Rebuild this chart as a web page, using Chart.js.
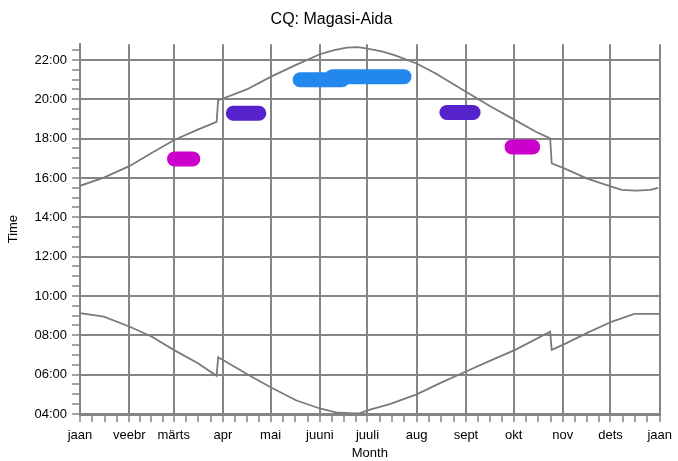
<!DOCTYPE html>
<html>
<head>
<meta charset="utf-8">
<title>CQ: Magasi-Aida</title>
<script src="https://cdn.jsdelivr.net/npm/chart.js@4/dist/chart.umd.min.js"></script>
<style>
    html, body { margin: 0; padding: 0; background: #fff; }
    #wrap { width: 678px; height: 461px; }
</style>
</head>
<body>
<div id="wrap"><canvas id="cqChart" width="678" height="461"></canvas></div>
<script>
// Month axis (day of year) and labels
const monthTicks = [0, 31, 59, 90, 120, 151, 181, 212, 243, 273, 304, 334, 365];
const monthLabels = ['jaan', 'veebr', 'märts', 'apr', 'mai', 'juuni', 'juuli', 'aug', 'sept', 'okt', 'nov', 'dets', 'jaan'];

// Time axis (hours)
const hourTicks = [4, 6, 8, 10, 12, 14, 16, 18, 20, 22];

// Sunset line (upper grey curve)
const sunsetDays  = [0, 15, 31, 44, 59, 73, 86, 87, 90, 105, 120, 136, 151, 160, 168, 175, 181, 190, 198, 212, 224, 243, 258, 274, 287, 296, 297, 305, 319, 335, 341, 350, 359, 364];
const sunsetHours = [15.60, 16.02, 16.60, 17.22, 17.92, 18.42, 18.85, 19.95, 20.04, 20.50, 21.14, 21.75, 22.29, 22.50, 22.63, 22.65, 22.58, 22.43, 22.24, 21.82, 21.31, 20.38, 19.66, 18.94, 18.35, 18.01, 16.74, 16.49, 15.98, 15.55, 15.39, 15.36, 15.39, 15.50];

// Sunrise line (lower grey curve)
const sunriseDays  = [0, 15, 31, 45, 59, 74, 86, 87, 90, 107, 120, 136, 151, 161, 172, 176, 181, 195, 212, 227, 243, 258, 274, 296, 297, 305, 320, 335, 349, 365];
const sunriseHours = [9.13, 8.95, 8.45, 7.94, 7.26, 6.59, 5.94, 6.89, 6.75, 5.94, 5.36, 4.70, 4.28, 4.08, 4.03, 4.03, 4.18, 4.50, 5.00, 5.58, 6.16, 6.70, 7.26, 8.19, 7.26, 7.55, 8.15, 8.70, 9.09, 9.09];

// CQ windows (start day, end day, time of day)
const windowStart = [59.5, 96.5, 138.6, 159, 231, 272];
const windowEnd   = [71, 112.6, 165, 204, 247.5, 285];
const windowTime  = [16.97, 19.29, 20.99, 21.15, 19.33, 17.58];
const windowColor = ['#cc00cc', '#5522cc', '#2288ee', '#2288ee', '#5522cc', '#cc00cc'];

const GRID = '#858585';
const FONT = '"Liberation Sans", Arial, sans-serif';

function toPoints(xs, ys) {
    return xs.map((x, i) => ({ x: x, y: ys[i] }));
}

// quarter-month minor ticks between the month starts
function monthMinorTicks() {
    const out = [];
    for (let i = 0; i < monthTicks.length - 1; i++) {
        const a = monthTicks[i], b = monthTicks[i + 1];
        for (let k = 0; k < 4; k++) out.push(a + k * (b - a) / 4);
    }
    out.push(monthTicks[monthTicks.length - 1]);
    return out;
}

function halfHourTicks() {
    const out = [];
    for (let h = 4; h <= 22.5; h += 0.5) out.push(h);
    return out;
}

function fmtHour(h) {
    return (h < 10 ? '0' : '') + h + ':00';
}

const datasets = [];

windowStart.forEach((s, i) => {
    datasets.push({
        label: 'cq' + i,
        data: toPoints([s, windowEnd[i]], [windowTime[i], windowTime[i]]),
        borderColor: windowColor[i],
        borderWidth: 15,
        borderCapStyle: 'round',
        pointRadius: 0,
        fill: false
    });
});

datasets.push({
    label: 'sunset',
    data: toPoints(sunsetDays, sunsetHours),
    borderColor: '#7a7a7a',
    borderWidth: 1.8,
    pointRadius: 0,
    tension: 0,
    fill: false
});

datasets.push({
    label: 'sunrise',
    data: toPoints(sunriseDays, sunriseHours),
    borderColor: '#7a7a7a',
    borderWidth: 1.8,
    pointRadius: 0,
    tension: 0,
    fill: false
});

Chart.defaults.font.family = FONT;
Chart.defaults.color = '#000';

new Chart(document.getElementById('cqChart').getContext('2d'), {
    type: 'line',
    data: { datasets: datasets },
    options: {
        responsive: false,
        animation: false,
        layout: { padding: { top: 0, right: 15, bottom: 0, left: 0 } },
        plugins: {
            legend: { display: false },
            tooltip: { enabled: false },
            title: {
                display: true,
                text: 'CQ: Magasi-Aida',
                font: { size: 16, weight: 'normal', family: FONT },
                color: '#000',
                padding: { top: 10, bottom: 15 }
            }
        },
        scales: {
            x: {
                type: 'linear',
                min: 0,
                max: 365,
                afterBuildTicks: (scale) => {
                    scale.ticks = monthMinorTicks().map(v => ({ value: v }));
                },
                afterFit: (scale) => { scale.height = 47; },
                ticks: {
                    autoSkip: false,
                    maxRotation: 0,
                    padding: 6,
                    font: { size: 13 },
                    callback: (value) => {
                        const idx = monthTicks.indexOf(value);
                        return idx >= 0 ? monthLabels[idx] : '';
                    }
                },
                grid: {
                    lineWidth: 2,
                    tickLength: 8,
                    tickWidth: 1.5,
                    tickColor: GRID,
                    color: (ctx) => (ctx.tick && monthTicks.includes(ctx.tick.value)) ? GRID : 'rgba(0,0,0,0)'
                },
                border: { color: GRID, width: 3 },
                title: {
                    display: true,
                    text: 'Month',
                    font: { size: 13 },
                    padding: { top: 0, bottom: 0 }
                }
            },
            y: {
                type: 'linear',
                min: 4,
                max: 22.8,
                afterBuildTicks: (scale) => {
                    scale.ticks = halfHourTicks().map(v => ({ value: v }));
                },
                afterFit: (scale) => { scale.width = 80; },
                ticks: {
                    autoSkip: false,
                    padding: 5,
                    font: { size: 13 },
                    callback: (value) => hourTicks.includes(value) ? fmtHour(value) : ''
                },
                grid: {
                    lineWidth: 2,
                    tickLength: 8,
                    tickWidth: 1.5,
                    tickColor: GRID,
                    color: (ctx) => (ctx.tick && hourTicks.includes(ctx.tick.value)) ? GRID : 'rgba(0,0,0,0)'
                },
                border: { color: GRID, width: 2 },
                title: {
                    display: true,
                    text: 'Time',
                    font: { size: 13 },
                    padding: { top: 6, bottom: 0 }
                }
            }
        }
    }
});
</script>
</body>
</html>
